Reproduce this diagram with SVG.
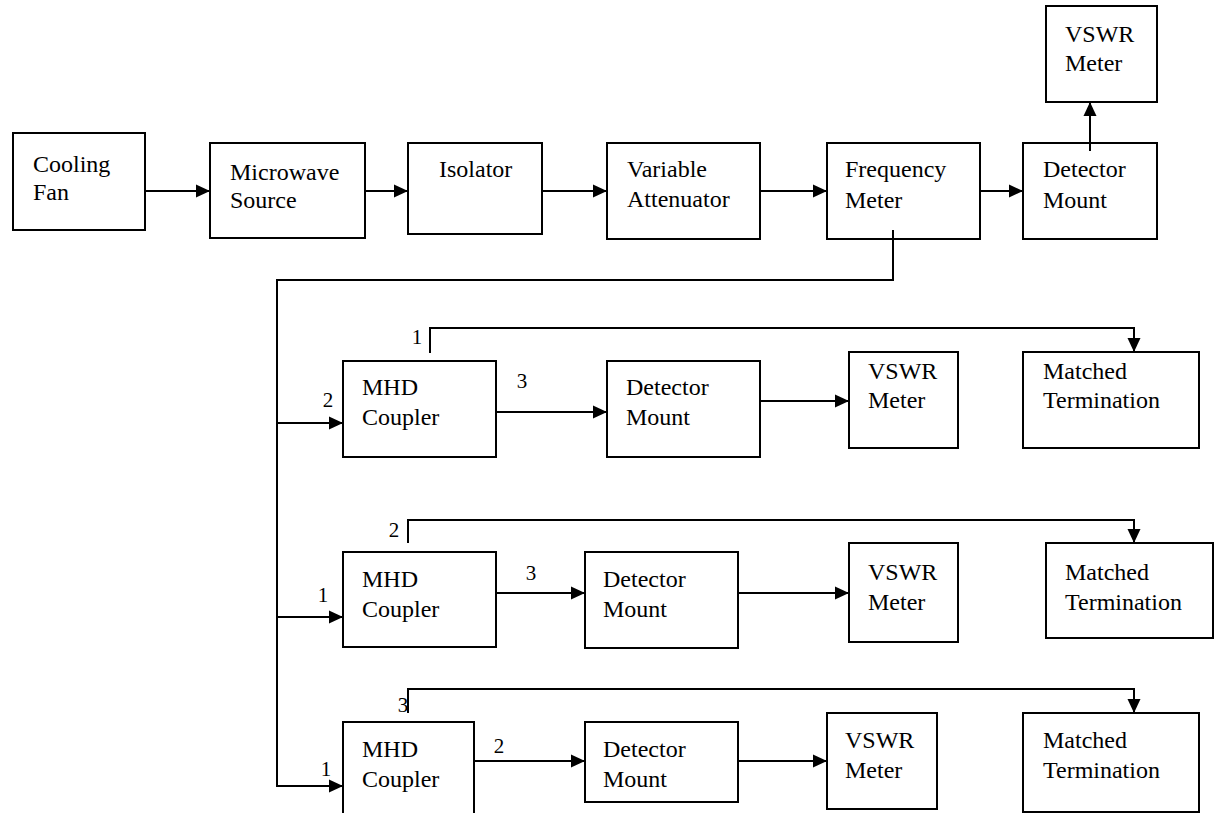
<svg xmlns="http://www.w3.org/2000/svg" width="1215" height="813" viewBox="0 0 1215 813" font-family="'Liberation Serif', 'Times New Roman', 'DejaVu Serif', serif">
<style>
rect.b{fill:#fff;stroke:#000;stroke-width:2}
text{font-family:'Liberation Serif','Times New Roman','DejaVu Serif',serif;font-size:24px;fill:#000}
text.n{font-size:21px}
.c path,.c line{fill:none;stroke:#000;stroke-width:2}
</style>
<defs>
<marker id="ah" markerWidth="14" markerHeight="14" refX="13" refY="7" orient="auto" markerUnits="userSpaceOnUse"><path d="M0,0.5 L14,7 L0,13.5 z" fill="#000"/></marker>
</defs>
<rect width="1215" height="813" fill="#fff"/>
<g id="cooling-fan"><rect class="b" x="13" y="133" width="132" height="97"/><text x="33" y="172">Cooling</text><text x="33" y="200">Fan</text></g>
<g id="microwave-source"><rect class="b" x="210" y="143" width="155" height="95"/><text x="230" y="180">Microwave</text><text x="230" y="208">Source</text></g>
<g id="isolator"><rect class="b" x="408" y="143" width="134" height="91"/><text x="439" y="177">Isolator</text></g>
<g id="variable-attenuator"><rect class="b" x="607" y="143" width="153" height="96"/><text x="627" y="177">Variable</text><text x="627" y="207">Attenuator</text></g>
<g id="frequency-meter"><rect class="b" x="827" y="143" width="153" height="96"/><text x="845" y="177">Frequency</text><text x="845" y="208">Meter</text></g>
<g id="detector-mount-top"><rect class="b" x="1023" y="143" width="134" height="96"/><text x="1043" y="177">Detector</text><text x="1043" y="208">Mount</text></g>
<g id="vswr-top"><rect class="b" x="1046" y="6" width="111" height="96"/><text x="1065" y="42">VSWR</text><text x="1065" y="71">Meter</text></g>

<g id="mhd1"><rect class="b" x="343" y="361" width="153" height="96"/><text x="362" y="395">MHD</text><text x="362" y="425">Coupler</text></g>
<g id="det1"><rect class="b" x="607" y="361" width="153" height="96"/><text x="626" y="395">Detector</text><text x="626" y="425">Mount</text></g>
<g id="vswr1"><rect class="b" x="849" y="352" width="109" height="96"/><text x="868" y="379">VSWR</text><text x="868" y="408">Meter</text></g>
<g id="mt1"><rect class="b" x="1023" y="352" width="176" height="96"/><text x="1043" y="379">Matched</text><text x="1043" y="408">Termination</text></g>

<g id="mhd2"><rect class="b" x="343" y="552" width="153" height="95"/><text x="362" y="587">MHD</text><text x="362" y="617">Coupler</text></g>
<g id="det2"><rect class="b" x="585" y="552" width="153" height="96"/><text x="603" y="587">Detector</text><text x="603" y="617">Mount</text></g>
<g id="vswr2"><rect class="b" x="849" y="543" width="109" height="99"/><text x="868" y="580">VSWR</text><text x="868" y="610">Meter</text></g>
<g id="mt2"><rect class="b" x="1046" y="543" width="167" height="95"/><text x="1065" y="580">Matched</text><text x="1065" y="610">Termination</text></g>

<g id="mhd3"><rect class="b" x="343" y="722" width="131" height="100"/><text x="362" y="757">MHD</text><text x="362" y="787">Coupler</text></g>
<g id="det3"><rect class="b" x="585" y="722" width="153" height="80"/><text x="603" y="757">Detector</text><text x="603" y="787">Mount</text></g>
<g id="vswr3"><rect class="b" x="827" y="713" width="110" height="96"/><text x="845" y="748">VSWR</text><text x="845" y="778">Meter</text></g>
<g id="mt3"><rect class="b" x="1023" y="713" width="176" height="99"/><text x="1043" y="748">Matched</text><text x="1043" y="778">Termination</text></g>

<g id="connectors" class="c">
<line x1="145" y1="191" x2="209" y2="191" marker-end="url(#ah)"/>
<line x1="365" y1="191" x2="407" y2="191" marker-end="url(#ah)"/>
<line x1="542" y1="191" x2="606" y2="191" marker-end="url(#ah)"/>
<line x1="760" y1="191" x2="826" y2="191" marker-end="url(#ah)"/>
<line x1="980" y1="191" x2="1022" y2="191" marker-end="url(#ah)"/>
<line x1="1090" y1="151" x2="1090" y2="103" marker-end="url(#ah)"/>
<path d="M893,230 V280 H277 V786 H342" marker-end="url(#ah)"/>
<line x1="277" y1="423" x2="342" y2="423" marker-end="url(#ah)"/>
<line x1="277" y1="617" x2="342" y2="617" marker-end="url(#ah)"/>
<path d="M430,353 V328 H1134 V351" marker-end="url(#ah)"/>
<line x1="496" y1="412" x2="606" y2="412" marker-end="url(#ah)"/>
<line x1="760" y1="401" x2="848" y2="401" marker-end="url(#ah)"/>
<path d="M408,543 V520 H1134 V542" marker-end="url(#ah)"/>
<line x1="496" y1="593" x2="584" y2="593" marker-end="url(#ah)"/>
<line x1="738" y1="593" x2="848" y2="593" marker-end="url(#ah)"/>
<path d="M408,713 V689 H1134 V712" marker-end="url(#ah)"/>
<line x1="474" y1="761" x2="584" y2="761" marker-end="url(#ah)"/>
<line x1="738" y1="761" x2="826" y2="761" marker-end="url(#ah)"/>
</g>
<g id="port-labels">
<text class="n" x="417" y="344" text-anchor="middle">1</text>
<text class="n" x="328" y="407" text-anchor="middle">2</text>
<text class="n" x="522" y="388" text-anchor="middle">3</text>
<text class="n" x="394" y="537" text-anchor="middle">2</text>
<text class="n" x="323" y="602" text-anchor="middle">1</text>
<text class="n" x="531" y="580" text-anchor="middle">3</text>
<text class="n" x="403" y="712" text-anchor="middle">3</text>
<text class="n" x="326" y="776" text-anchor="middle">1</text>
<text class="n" x="499" y="753" text-anchor="middle">2</text>
</g>
</svg>
